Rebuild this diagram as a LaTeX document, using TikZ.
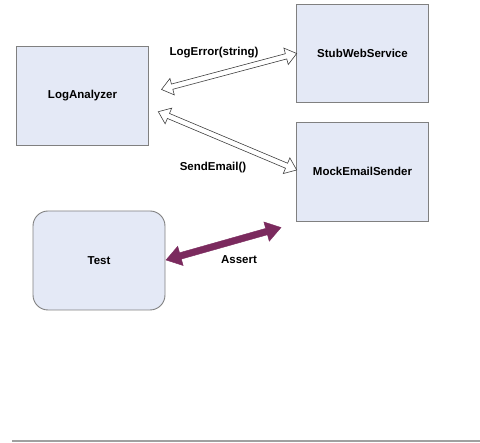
\documentclass[tikz,border=0pt]{standalone}
\usepackage{fontspec}
\setmainfont{Liberation Sans}
\usetikzlibrary{calc}
\definecolor{boxfill}{HTML}{E4E9F6}
\definecolor{boxline}{HTML}{808080}
\definecolor{assertcol}{HTML}{7B2A5E}
\definecolor{rulecol}{HTML}{A0A0A0}
\newcommand{\blockarrow}[7]{% #1 style, #2 A, #3 B, #4 head length, #5 head half width, #6 shaft half width, #7 tag
  \coordinate (#7a) at ($(#2)!#4!(#3)$);
  \coordinate (#7b) at ($(#3)!#4!(#2)$);
  \draw[#1] (#2)
    -- ($(#7a)!#5!90:(#3)$) -- ($(#7a)!#6!90:(#3)$)
    -- ($(#7b)!#6!-90:(#2)$) -- ($(#7b)!#5!-90:(#2)$)
    -- (#3)
    -- ($(#7b)!#5!90:(#2)$) -- ($(#7b)!#6!90:(#2)$)
    -- ($(#7a)!#6!-90:(#3)$) -- ($(#7a)!#5!-90:(#3)$)
    -- cycle;
}
\begin{document}
\begin{tikzpicture}[x=1pt,y=-1pt,
  box/.style={draw=boxline, line width=0.9pt, fill=boxfill, inner sep=0pt},
  lbl/.style={font=\fontsize{11.5}{13}\selectfont\bfseries, inner sep=0pt},
  hollow/.style={draw=black!75, line width=0.6pt, fill=white, line join=miter},
  solidarr/.style={fill=assertcol, draw=assertcol, line width=0.4pt}]
\useasboundingbox (0,0) rectangle (480,443);
% boxes
\node[box, minimum width=132pt, minimum height=99pt] (log) at (82.5,96) {};
\node[box, minimum width=132pt, minimum height=98.5pt] (stub) at (362.5,53.25) {};
\node[box, minimum width=132pt, minimum height=98.5pt] (mock) at (362.5,171.75) {};
\node[box, rounded corners=15pt, minimum width=132pt, minimum height=99pt] (test) at (99,260.5) {};
\node[lbl] at (log.center) {LogAnalyzer};
\node[lbl] at (stub.center) {StubWebService};
\node[lbl] at (mock.center) {MockEmailSender};
\node[lbl] at (test.center) {Test};
% connector end points
\coordinate (e1a) at (161.5,89.5);
\coordinate (e1b) at (296.7,53.5);
\coordinate (e2a) at (158.3,111.7);
\coordinate (e2b) at (296.7,170);
\coordinate (e3a) at (166,260);
\coordinate (e3b) at (281,227.5);
\blockarrow{hollow}{e1a}{e1b}{11pt}{8.5pt}{2.7pt}{h1}
\blockarrow{hollow}{e2a}{e2b}{11pt}{8.5pt}{2.7pt}{h2}
\blockarrow{solidarr}{e3a}{e3b}{15pt}{10pt}{3.3pt}{h3}
% labels
\node[lbl] (l1) at (214,53) {LogError(string)};
\node[lbl] (l2) at (213,168) {SendEmail()};
\node[lbl] (l3) at (239,260) {Assert};
% bottom rule
\coordinate (r1) at (12,441);
\coordinate (r2) at (480,441);
\draw[rulecol, line width=1.6pt] (r1) -- (r2);
\end{tikzpicture}
\end{document}
